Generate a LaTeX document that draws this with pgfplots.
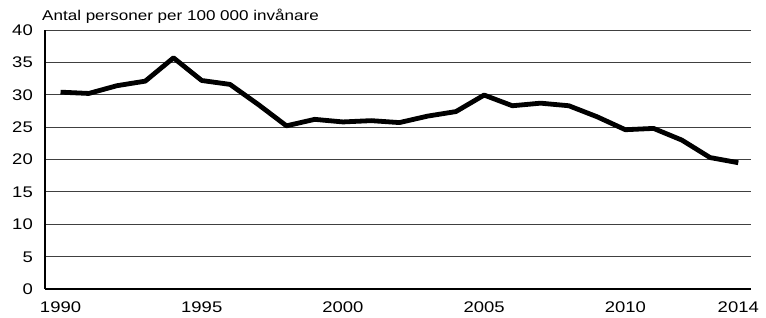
\documentclass[border=0pt]{standalone}
\usepackage{fontspec}
\setmainfont{Liberation Sans}[FakeStretch=1.2]
\usepackage{pgfplots}
\pgfplotsset{compat=1.18}
\begin{document}
\begin{tikzpicture}
\begin{axis}[
  scale only axis,
  width=706pt, height=259pt,
  xmin=1989.45, xmax=2014.45,
  ymin=0, ymax=40,
  axis x line*=bottom, axis y line*=left,
  axis line style={black, line width=1.2pt, -},
  xtick={1990,1995,2000,2005,2010,2014},
  ytick={0,5,...,40},
  major tick length=0pt,
  ymajorgrids,
  grid style={black!75, line width=0.9pt},
  /pgf/number format/assume math mode=true,
  /pgf/number format/1000 sep={},
  xticklabel style={font=\fontsize{15.4}{17}\selectfont, anchor=base, inner sep=0pt, yshift=-23.5pt},
  yticklabel style={font=\fontsize{15.4}{17}\selectfont, anchor=base east, inner sep=0pt, xshift=-12pt, yshift=-5.5pt},
  clip=false,
]
\addplot[black, line width=4.8pt, line join=round] coordinates {
(1990,30.4) (1991,30.2) (1992,31.4) (1993,32.1) (1994,35.7)
(1995,32.2) (1996,31.6) (1997,28.5) (1998,25.2) (1999,26.2)
(2000,25.8) (2001,26.0) (2002,25.7) (2003,26.7) (2004,27.4)
(2005,29.95) (2006,28.3) (2007,28.7) (2008,28.3) (2009,26.6)
(2010,24.6) (2011,24.8) (2012,23.0) (2013,20.3) (2014,19.5)
};
\node[anchor=base west, inner sep=0pt, font=\fontsize{14.2}{16}\selectfont] at ([xshift=-3pt,yshift=9.5pt]rel axis cs:0,1) {Antal personer per 100~000 invånare};
\end{axis}
\path ([shift={(-45pt,-29pt)}]current axis.south west) rectangle ++(766pt,318pt);
\end{tikzpicture}
\end{document}
